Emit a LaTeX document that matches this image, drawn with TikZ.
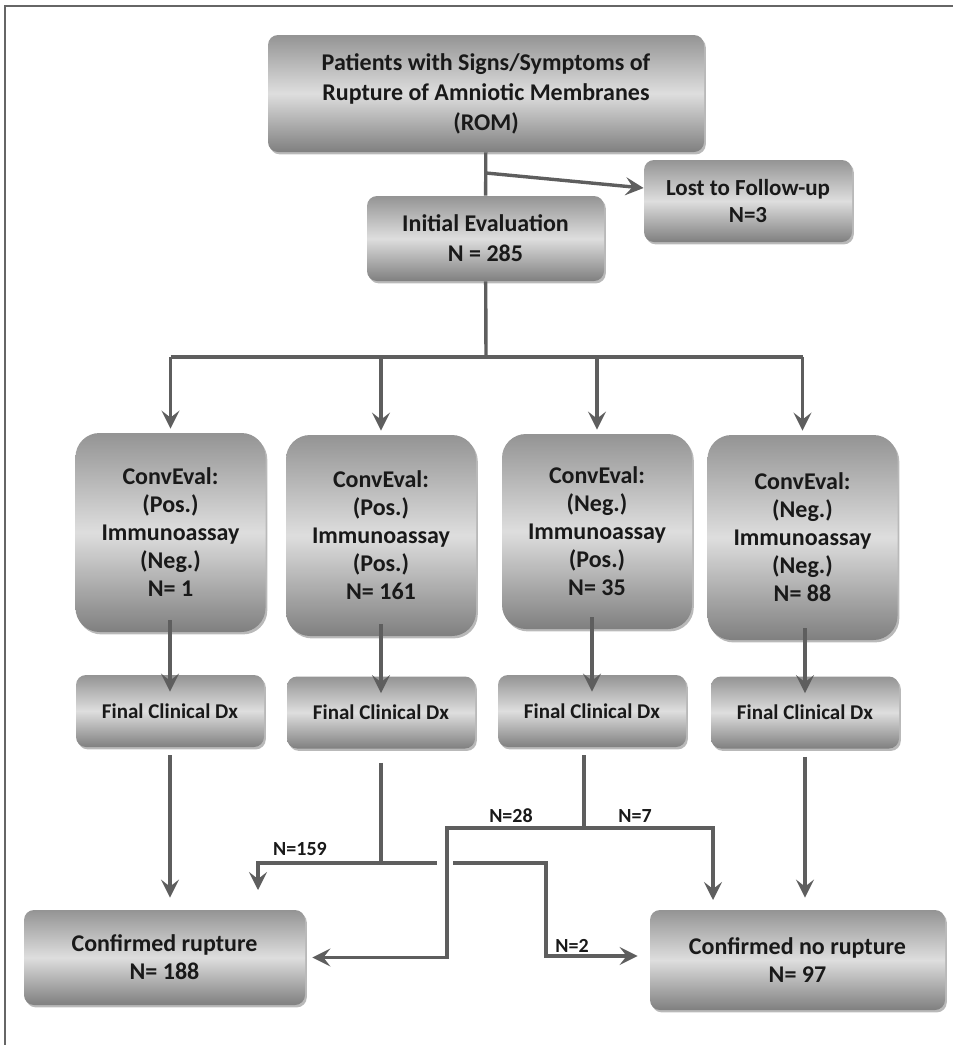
\documentclass[tikz,border=0pt]{standalone}
\usepackage{fontspec}
\setmainfont{Carlito}
\usetikzlibrary{arrows.meta, shadows}

\tikzset{
  box/.style={rounded corners=5pt, top color=black!42, bottom color=black!50, middle color=black!13,
    drop shadow={shadow xshift=.9pt, shadow yshift=-1.2pt, opacity=.55},
    align=center, text=black!90, inner sep=0pt, font=\bfseries\fontsize{12}{15}\selectfont},
  convbox/.style={box, rounded corners=12pt, minimum width=95pt, font=\bfseries\fontsize{12}{14}\selectfont},
  dxbox/.style={box, minimum width=94pt, minimum height=36pt, font=\bfseries\fontsize{10.5}{12}\selectfont},
  flow/.style={draw=black!63, line width=1.7pt},
  lab/.style={font=\bfseries\fontsize{10}{12}\selectfont, text=black!90, inner sep=1pt}
}

\begin{document}
\begin{tikzpicture}[x=0.5pt, y=-0.5pt, >={Stealth[length=9pt,width=9pt,inset=3.5pt]}]

\useasboundingbox (0,0) rectangle (953,1045);
\draw[black!60, line width=1pt] (5,1045) -- (5,6) -- (953,6);

\node[box, minimum width=218pt, minimum height=58.5pt] (patients) at (486,93.5)
  {Patients with Signs/Symptoms of\\Rupture of Amniotic Membranes\\(ROM)};
\node[box, minimum width=104pt, minimum height=41pt, font=\bfseries\fontsize{11.5}{13.5}\selectfont] (lost) at (748,201)
  {Lost to Follow-up\\N=3};
\node[box, minimum width=118.5pt, minimum height=42.5pt] (initial) at (485.5,238.5)
  {Initial Evaluation\\N = 285};

\foreach \i/\x/\y/\h/\a/\b/\n in {1/170.5/532.5/99.5/Pos./Neg./1, 2/381/535.5/100.5/Pos./Pos./161,
                              3/597/531.5/97.5/Neg./Pos./35, 4/802.5/537.5/102.5/Neg./Neg./88}
  \node[convbox, minimum height=\h pt] (conv\i) at (\x,\y)
    {ConvEval:\\(\a)\\Immunoassay\\(\b)\\N= \n};

\foreach \i/\x/\y in {1/170/711, 2/381/712.5, 3/592/711, 4/805/712.5}
  \node[dxbox] (dx\i) at (\x,\y) {Final Clinical Dx};

\node[box, minimum width=140.5pt, minimum height=47.5pt, font=\bfseries\fontsize{12}{14}\selectfont] (rupture) at (164.5,957.5)
  {Confirmed rupture\\N= 188};
\node[box, minimum width=147.5pt, minimum height=50pt, font=\bfseries\fontsize{12}{14}\selectfont] (norupture) at (797.5,960)
  {Confirmed no rupture\\N= 97};

% top part
\coordinate (split) at (486,173);
\coordinate (hub) at (486,357);
\draw[flow] (patients) -- (initial);
\draw[flow,->] (split) -- ([yshift=6.5pt]lost.west);
\draw[flow] (initial) -- (hub);
\draw[flow, line width=2.4pt] (conv1 |- hub) -- (conv4 |- hub);
\foreach \i in {1,...,4}
  \draw[flow,->, shorten >=2pt] (conv\i |- hub) -- (conv\i.north);

\foreach \i in {1,...,4}
  \draw[flow,->] ([yshift=6pt]dx\i |- conv\i.south) -- ([yshift=-8.5pt]dx\i.north);

% bottom part
\coordinate (j159) at (381,863);
\coordinate (t159) at (258,890);
\coordinate (gapL) at (437,863);
\coordinate (gapR) at (453,863);
\coordinate (k2) at (546,863);
\coordinate (j28) at (584,828);
\coordinate (k28) at (447,828);
\coordinate (t7) at (713,900);

\draw[flow,->, shorten <=4pt, shorten >=6pt] (dx1.south) -- (dx1.south |- rupture.north);
\draw[flow,->, shorten <=7pt] (dx2.south) -- (j159) -| (t159);
\draw[flow] (j159) -- (gapL);
\draw[flow,->, shorten >=6pt] (gapR) -- (k2) |- ([yshift=2pt]norupture.west);
\draw[flow, shorten <=4pt] (j28 |- dx3.south) -- (j28);
\draw[flow,->, shorten >=3.5pt] (j28) -- (k28) |- (rupture.east);
\draw[flow,->] (j28) -| (t7);
\draw[flow,->, shorten <=4pt, shorten >=6pt] (dx4.south) -- (dx4.south |- norupture.north);

\node[lab] (n159) at (300,849) {N=159};
\node[lab] (n28) at (511,816) {N=28};
\node[lab] (n7) at (635,816) {N=7};
\node[lab] (n2) at (572,946) {N=2};

\end{tikzpicture}
\end{document}
